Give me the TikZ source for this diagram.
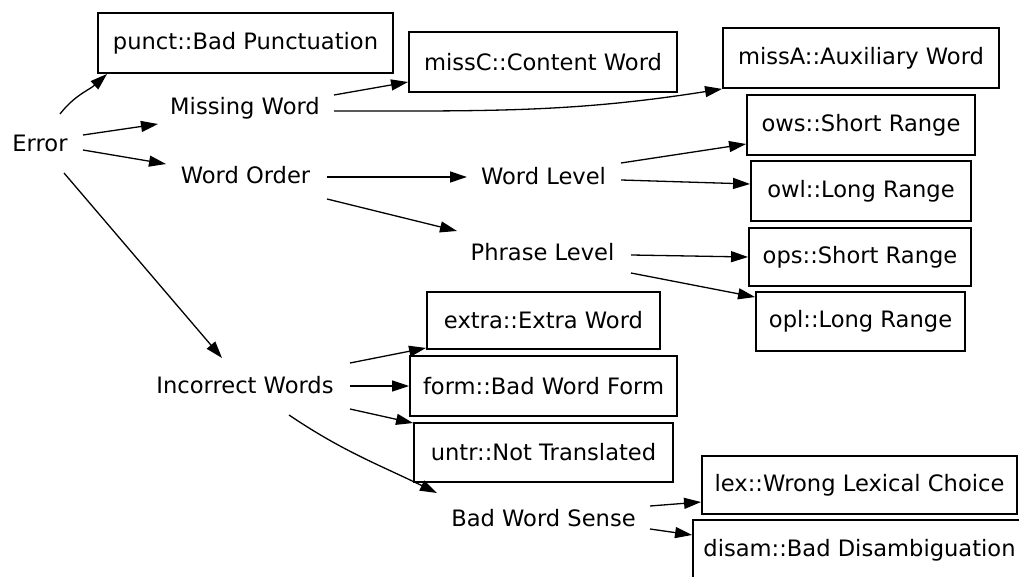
\documentclass[tikz,border=0pt]{standalone}
\usepackage{fontspec}
\setmainfont{DejaVu Sans}
\usetikzlibrary{arrows.meta}
\tikzset{
  lbl/.style={inner sep=0pt, font=\fontsize{22.6}{27}\selectfont},
  cat/.style={draw, line width=1.9pt, inner sep=0pt, font=\fontsize{22.6}{27}\selectfont},
  arr/.style={line width=1.3pt, -{Triangle[length=17pt,width=11pt]}},
}
\begin{document}
\begin{tikzpicture}[x=1pt,y=-1pt]
\useasboundingbox (0,0) rectangle (1019,577);
\clip (0,0) rectangle (1019,577);
\fill[white] (0,0) rectangle (1019,577);
% labels
\node[lbl] (err) at (40,143) {Error};
\node[lbl] (mw) at (245,108) {Missing Word};
\node[lbl] (wo) at (245.5,175) {Word Order};
\node[lbl] (wl) at (543.5,176) {Word Level};
\node[lbl] (pl) at (542.5,252) {Phrase Level};
\node[lbl] (iw) at (245,385) {Incorrect Words};
\node[lbl] (bws) at (543.5,518) {Bad Word Sense};
% boxes
\node[cat, minimum width=295pt, minimum height=60pt] (punct) at (245.5,43) {punct::Bad Punctuation};
\node[cat, minimum width=268pt, minimum height=60pt] (missC) at (543,62) {missC::Content Word};
\node[cat, minimum width=276pt, minimum height=60pt] (missA) at (861,58) {missA::Auxiliary Word};
\node[cat, minimum width=228pt, minimum height=60pt] (ows) at (861,125) {ows::Short Range};
\node[cat, minimum width=220pt, minimum height=60pt] (owl) at (861,191) {owl::Long Range};
\node[cat, minimum width=222pt, minimum height=58pt] (ops) at (860,257) {ops::Short Range};
\node[cat, minimum width=209pt, minimum height=59pt] (opl) at (860.5,321.5) {opl::Long Range};
\node[cat, minimum width=233pt, minimum height=57pt] (extra) at (543.5,320.5) {extra::Extra Word};
\node[cat, minimum width=267pt, minimum height=60pt] (form) at (543.5,386) {form::Bad Word Form};
\node[cat, minimum width=259pt, minimum height=59pt] (untr) at (543.5,452.5) {untr::Not Translated};
\node[cat, minimum width=315pt, minimum height=58pt] (lex) at (859.5,485) {lex::Wrong Lexical Choice};
\node[cat, minimum width=333pt, minimum height=60pt] (disam) at (859.5,550) {disam::Bad Disambiguation};
% edges from Error
\draw[arr] ([shift={(20,-29)}]err.center) to[out=52,in=222] ([shift={(10,0)}]punct.south west);
\draw[arr] ([shift={(43,-8)}]err.center) -- ([shift={(-87,16)}]mw.center);
\draw[arr] ([shift={(43,7)}]err.center) -- ([shift={(-79.5,-11)}]wo.center);
\draw[arr] ([shift={(24,30)}]err.center) -- ([shift={(-23,-27)}]iw.center);
% Missing Word
\draw[arr] ([shift={(89,-13)}]mw.center) -- ([shift={(0,20)}]missC.west);
\draw[arr] ([shift={(89,3)}]mw.center) to[out=0,in=189] (missA.south west);
% Word Order
\draw[arr] ([shift={(81.5,2)}]wo.center) -- ([shift={(-76.5,1)}]wl.center);
\draw[arr] ([shift={(81.5,24)}]wo.center) -- ([shift={(-85.5,-21)}]pl.center);
% Word Level
\draw[arr] ([shift={(77.5,-13)}]wl.center) -- ([shift={(0,19)}]ows.west);
\draw[arr] ([shift={(77.5,4)}]wl.center) -- ([shift={(0,-7)}]owl.west);
% Phrase Level
\draw[arr] ([shift={(88.5,3)}]pl.center) -- (ops.west);
\draw[arr] ([shift={(88.5,21)}]pl.center) -- ([shift={(0,6)}]opl.north west);
% Incorrect Words
\draw[arr] ([shift={(105,-22)}]iw.center) -- ([shift={(0,-2)}]extra.south west);
\draw[arr] ([shift={(105,1)}]iw.center) -- (form.west);
\draw[arr] ([shift={(105,24)}]iw.center) -- ([shift={(0,1)}]untr.north west);
\draw[arr] ([shift={(44,30)}]iw.center) to[out=-34,in=154] ([shift={(-106.5,-25)}]bws.center);
% Bad Word Sense
\draw[arr] ([shift={(106.5,-12)}]bws.center) -- ([shift={(0,17)}]lex.west);
\draw[arr] ([shift={(106.5,11)}]bws.center) -- ([shift={(0,-15)}]disam.west);
\end{tikzpicture}
\end{document}
